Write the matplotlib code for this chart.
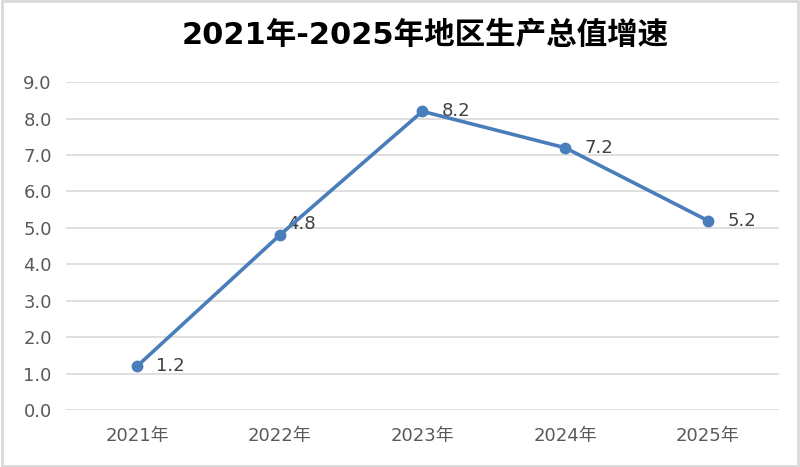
import matplotlib
matplotlib.use("Agg")
import matplotlib.pyplot as plt
from matplotlib.patches import Rectangle

plt.rcParams['font.family'] = ['DejaVu Sans', 'Noto Sans CJK SC']

years = ["2021年", "2022年", "2023年", "2024年", "2025年"]
growth = [1.2, 4.8, 8.2, 7.2, 5.2]
yticks = [0, 1, 2, 3, 4, 5, 6, 7, 8, 9]

fig = plt.figure(figsize=(8.0, 4.67), dpi=100)
ax = fig.add_axes([0.082, 0.122, 0.892, 0.702])

xs = list(range(len(years)))
ax.plot(xs, growth, color="#4a7ebb", lw=2.6, marker="o", ms=7.5, zorder=3)
for x, v in zip(xs, growth):
    # Excel nudged the 4.8 label up and in to clear the line
    off = (5, 8) if v == 4.8 else (14, 0)
    ax.annotate(f"{v:.1f}", (x, v), xytext=off, textcoords="offset points",
                ha="left", va="center", fontsize=13, color="#404040", zorder=2)

ax.set_xlim(-0.5, len(years) - 0.5)
ax.set_ylim(0, 9)
ax.set_yticks(yticks, [f"{t:.1f}" for t in yticks])
ax.set_xticks(xs, years)
ax.tick_params(length=0, labelsize=13, colors="#595959", pad=10)
ax.tick_params(axis="x", pad=12)
ax.grid(axis="y", color="#d9d9d9", lw=1.2)
ax.set_axisbelow(True)
for s in ax.spines.values():
    s.set_visible(False)

fig.text(0.532, 0.925, "2021年-2025年地区生产总值增速", ha="center", va="center",
         fontsize=22, fontweight="bold", color="#000000")

fig.patches.append(Rectangle((0.002, 0.003), 0.996, 0.994, transform=fig.transFigure,
                             fill=False, ec="#d9d9d9", lw=2))

fig.savefig("out.png", dpi=100)
